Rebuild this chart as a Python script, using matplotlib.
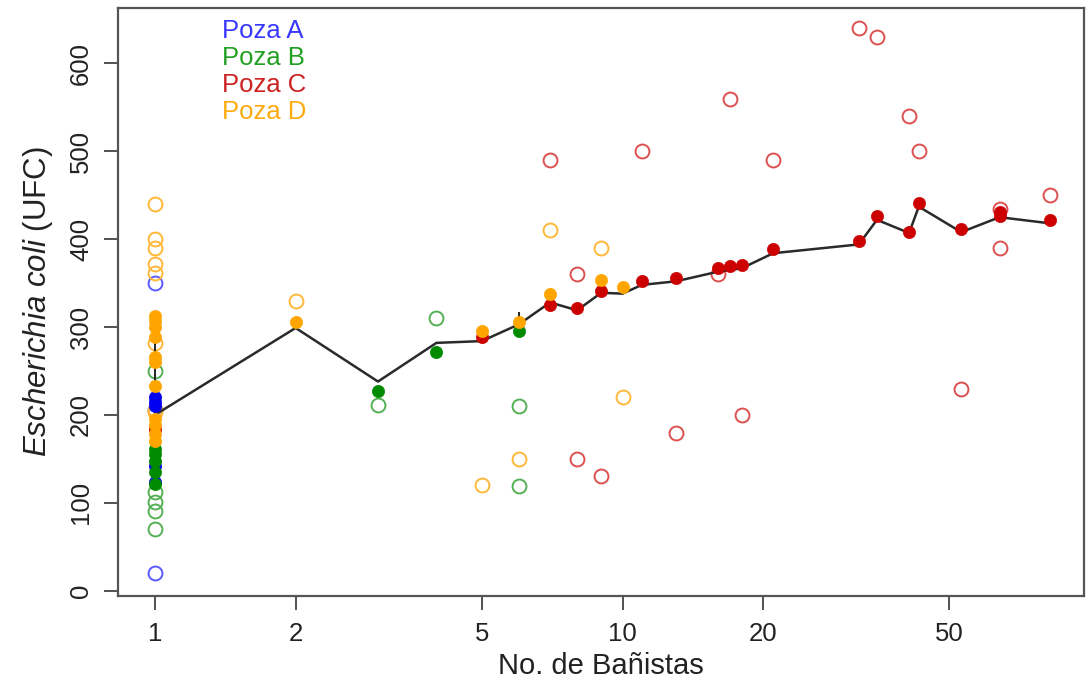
import numpy as np
import matplotlib
matplotlib.use("Agg")
import matplotlib.pyplot as plt

plt.rcParams['font.family'] = ['Liberation Sans', 'DejaVu Sans']
plt.rcParams['mathtext.fontset'] = 'custom'
plt.rcParams['mathtext.it'] = 'Liberation Sans:italic'
plt.rcParams['mathtext.rm'] = 'Liberation Sans'

# ---- data ----
pools = ["Poza A", "Poza B", "Poza C", "Poza D"]

# Poza A (blue)
a_fill_x = [1, 1, 1, 1, 1]
a_fill_y = [220, 215, 210, 142, 124]
a_open_x = [1, 1, 1]
a_open_y = [350, 206, 20]

# Poza B (green)
b_fill_x = [1, 1, 1, 1, 1, 3, 4, 6]
b_fill_y = [161, 155, 148, 135, 121, 227, 272, 295]
b_open_x = [1, 1, 1, 1, 1, 3, 4, 6, 6]
b_open_y = [250, 112, 101, 91, 70, 211, 310, 210, 119]

# Poza C (red)
c_fill_x = [1, 5, 7, 8, 9, 11, 13, 16, 17, 18, 21, 32, 35, 41, 43, 53, 64, 64, 82]
c_fill_y = [184, 289, 325, 322, 341, 352, 356, 367, 369, 371, 389, 398, 426, 408, 441, 412, 431, 426, 422]
c_open_x = [7, 8, 8, 9, 11, 13, 16, 17, 18, 21, 32, 35, 41, 43, 53, 64, 64, 82]
c_open_y = [490, 360, 150, 130, 500, 180, 360, 560, 200, 490, 640, 630, 540, 500, 230, 434, 390, 450]

# Poza D (orange)
d_fill_x = [1, 1, 1, 1, 1, 1, 1, 1, 1, 1, 1, 2, 5, 6, 7, 9, 10]
d_fill_y = [313, 307, 300, 289, 266, 260, 233, 195, 189, 178, 170, 306, 295, 306, 338, 354, 345]
d_open_x = [1, 1, 1, 1, 1, 1, 1, 1, 2, 5, 6, 7, 9, 10]
d_open_y = [440, 400, 390, 372, 362, 282, 206, 203, 330, 120, 150, 410, 390, 220]

# mean line
mean_x = [1, 2, 3, 4, 5, 6, 7, 8, 9, 10, 11, 13, 16, 17, 18, 21, 32, 35, 41, 43, 53, 64, 82]
mean_y = [200, 299, 238, 282, 284, 303, 328, 319, 339, 338, 348, 352, 363, 365, 367, 384, 394, 422, 407, 437, 408, 425, 418]

# small vertical bars
bar_x = [1, 6]
bar_lo = [200, 303]
bar_hi = [315, 317]

xticks = [1, 2, 5, 10, 20, 50]
yticks = [0, 100, 200, 300, 400, 500, 600]

fill_cols = ["#0000F0", "#008A00", "#CC0000", "#FFA500"]
open_cols = ["#5A5AFF", "#55B055", "#DD5050", "#FFB83A"]
text_cols = ["#3838FF", "#22A022", "#CC2222", "#FFAA10"]

fig = plt.figure(figsize=(10.87, 6.84), dpi=100)
ax = fig.add_axes([118 / 1087, 1 - 596 / 684, (1084 - 118) / 1087, (596 - 8) / 684])
ax.set_xscale('log')

open_sets = [(a_open_x, a_open_y), (b_open_x, b_open_y), (c_open_x, c_open_y), (d_open_x, d_open_y)]
fill_sets = [(a_fill_x, a_fill_y), (b_fill_x, b_fill_y), (c_fill_x, c_fill_y), (d_fill_x, d_fill_y)]

for (xx, yy), col in zip(open_sets, open_cols):
    ax.plot(xx, yy, linestyle='none', marker='o', markersize=10, markerfacecolor='none',
            markeredgecolor=col, markeredgewidth=1.4, zorder=2)

ax.vlines(bar_x, bar_lo, bar_hi, color='#222222', linewidth=1.4, zorder=2.5)
ax.plot(mean_x, mean_y, color='#2a2a2a', linewidth=1.8, zorder=3)

for (xx, yy), col in zip(fill_sets, fill_cols):
    ax.plot(xx, yy, linestyle='none', marker='o', markersize=8.8, markerfacecolor=col,
            markeredgecolor=col, markeredgewidth=0.5, zorder=4)

ax.set_xlim(0.834, 97)
ax.set_ylim(-6, 663)
ax.set_xticks(xticks)
ax.set_xticklabels([str(t) for t in xticks])
ax.xaxis.set_minor_locator(matplotlib.ticker.NullLocator())
ax.set_yticks(yticks)
ax.set_yticklabels([str(t) for t in yticks], rotation=90, va='center')
ax.tick_params(axis='both', direction='out', length=10, width=1.2, color='#333333',
               labelsize=18.5, labelcolor='#222222')
ax.tick_params(axis='x', pad=9)
ax.tick_params(axis='y', pad=8)
for s in ax.spines.values():
    s.set_color('#555555')
    s.set_linewidth(1.6)

ax.set_xlabel('No. de Bañistas', fontsize=21, color='#222222', labelpad=4)
ax.set_ylabel(r'$\mathit{Escherichia\ coli}$ (UFC)', fontsize=22.5, color='#222222', labelpad=10)

for i, (name, col) in enumerate(zip(pools, text_cols)):
    fig.text(222 / 1087, 1 - (31 + 27 * i) / 684, name, color=col, fontsize=18.5,
             ha='left', va='center')

fig.savefig('out.png', dpi=100)
